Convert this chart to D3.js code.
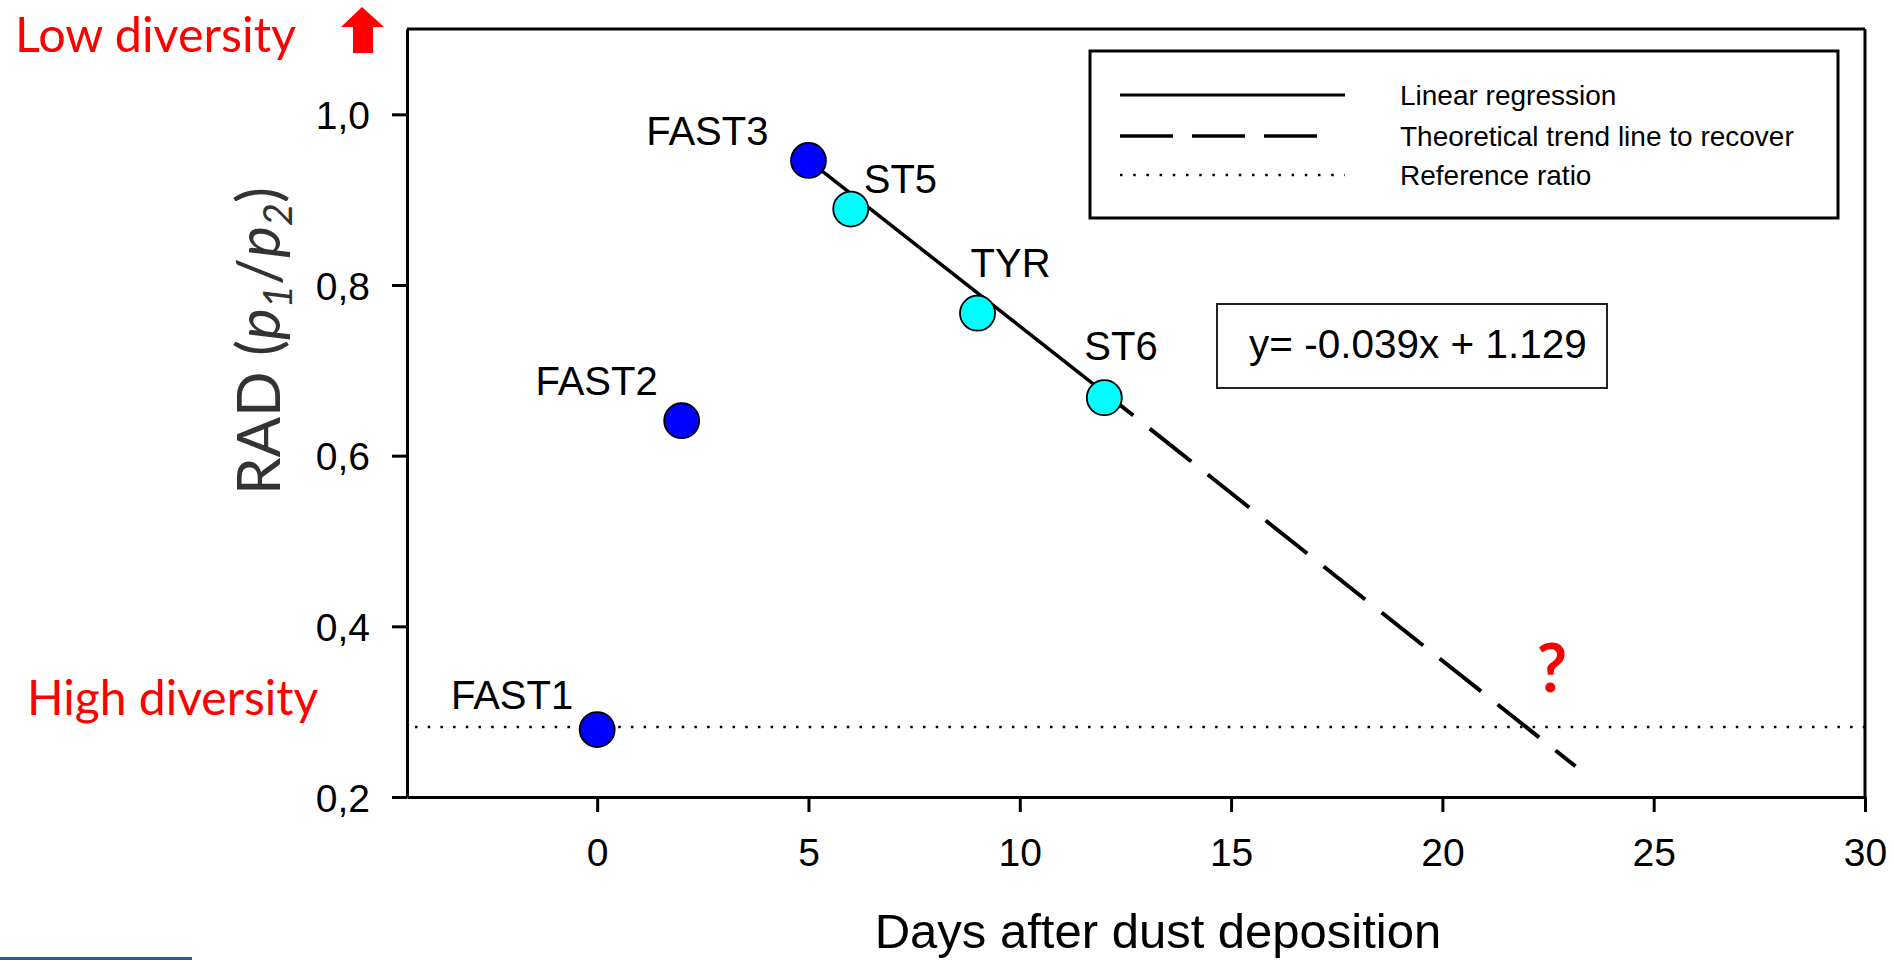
<!DOCTYPE html>
<html><head><meta charset="utf-8">
<script src="https://cdn.jsdelivr.net/npm/d3@7"></script>
<style>body{margin:0;background:#fff;} svg{display:block;}</style>
</head><body>
<svg id="c" width="1893" height="960"></svg>
<script>
// ---------- data ----------
const sampleNames = ["FAST1", "FAST2", "FAST3", "ST5", "TYR", "ST6"];
const sampleDays  = [0, 2, 5, 6, 9, 12];
const sampleRAD   = [0.279, 0.641, 0.946, 0.889, 0.767, 0.668];
const sampleGroup = ["FAST", "FAST", "FAST", "ST", "ST", "ST"];

const regressionLine = [[5, 0.946], [12, 0.674]];        // solid
const theoreticalLine = [[12, 0.674], [23.15, 0.236]];   // dashed
const referenceRatio = 0.282;
const equationText = "y= -0.039x + 1.129";

const xTicks = [0, 5, 10, 15, 20, 25, 30];
const yTicks = [0.2, 0.4, 0.6, 0.8, 1.0];
const xDomain = [-4.5, 30];
const yDomain = [0.2, 1.1];

const legendLabels = ["Linear regression", "Theoretical trend line to recover", "Reference ratio"];
const legendStyles = ["solid", "dashed", "dotted"];

// ---------- style / layout ----------
const groupColor = {FAST: "#0000ff", ST: "#00ffff"};
const labelOffset = {
  FAST1: {dx: -24, dy: -21, anchor: "end"},
  FAST2: {dx: -24, dy: -26, anchor: "end"},
  FAST3: {dx: -40, dy: -15, anchor: "end"},
  ST5:   {dx: 13,  dy: -16, anchor: "start"},
  TYR:   {dx: -7,  dy: -36, anchor: "start"},
  ST6:   {dx: -20, dy: -38, anchor: "start"}
};
const ARIAL = "'Liberation Sans', Arial, sans-serif";
const HUMAN = "Lato, 'Open Sans', sans-serif";

const svg = d3.select("#c");
const x = d3.scaleLinear().domain(xDomain).range([407, 1865]);
const y = d3.scaleLinear().domain(yDomain).range([797, 29]);

const locale = d3.formatLocale({decimal: ",", thousands: ".", grouping: [3], currency: ["", ""]});
const fmtY = locale.format(".1f");

// frame (top & right)
svg.append("line").attr("x1", x(xDomain[0])).attr("x2", x(xDomain[1]))
  .attr("y1", y(yDomain[1])).attr("y2", y(yDomain[1]))
  .attr("stroke", "#000").attr("stroke-width", 3);
svg.append("line").attr("x1", x(xDomain[1])).attr("x2", x(xDomain[1]))
  .attr("y1", y(yDomain[1])).attr("y2", y(yDomain[0]))
  .attr("stroke", "#000").attr("stroke-width", 3);

// axes
const gx = svg.append("g").attr("transform", `translate(0,${y(yDomain[0])})`)
  .call(d3.axisBottom(x).tickValues(xTicks).tickSize(15).tickSizeOuter(0).tickPadding(20).tickFormat(d3.format("d")));
const gy = svg.append("g").attr("transform", `translate(${x(xDomain[0])},0)`)
  .call(d3.axisLeft(y).tickValues(yTicks).tickSize(15).tickSizeOuter(0).tickPadding(22).tickFormat(fmtY));
[gx, gy].forEach(g => {
  g.select(".domain").attr("stroke", "#000").attr("stroke-width", 3);
  g.selectAll(".tick line").attr("stroke", "#000").attr("stroke-width", 3);
  g.selectAll(".tick text").attr("font-family", ARIAL).attr("font-size", 39).attr("fill", "#000");
});
gx.selectAll(".tick text").attr("dy", null).attr("y", 69);
gy.selectAll(".tick text").attr("dy", "0.36em");

// reference dotted line
svg.append("line").attr("x1", x(xDomain[0]) + 8).attr("x2", x(xDomain[1]))
  .attr("y1", y(referenceRatio)).attr("y2", y(referenceRatio))
  .attr("stroke", "#000").attr("stroke-width", 2.5).attr("stroke-dasharray", "2.5 10.2");

const line = d3.line().x(d => x(d[0])).y(d => y(d[1]));
svg.append("path").attr("d", line(theoreticalLine)).attr("fill", "none")
  .attr("stroke", "#000").attr("stroke-width", 4)
  .attr("stroke-dasharray", "53 21").attr("stroke-dashoffset", 16);
svg.append("path").attr("d", line(regressionLine)).attr("fill", "none")
  .attr("stroke", "#000").attr("stroke-width", 3.5);

// points
const pts = sampleNames.map((n, i) => ({name: n, day: sampleDays[i], rad: sampleRAD[i], group: sampleGroup[i]}));
svg.selectAll("circle.pt").data(pts).join("circle").attr("class", "pt")
  .attr("cx", d => x(d.day)).attr("cy", d => y(d.rad)).attr("r", 17.5)
  .attr("fill", d => groupColor[d.group]).attr("stroke", "#000").attr("stroke-width", 1.8);
svg.selectAll("text.pl").data(pts).join("text").attr("class", "pl")
  .attr("x", d => x(d.day) + labelOffset[d.name].dx)
  .attr("y", d => y(d.rad) + labelOffset[d.name].dy)
  .attr("text-anchor", d => labelOffset[d.name].anchor)
  .attr("font-family", ARIAL).attr("font-size", 40).attr("fill", "#000")
  .text(d => d.name);

// legend
svg.append("rect").attr("x", 1090).attr("y", 51).attr("width", 748).attr("height", 167)
  .attr("fill", "#fff").attr("stroke", "#000").attr("stroke-width", 3);
const dashFor = {solid: null, dashed: "53 19", dotted: "2.5 10.7"};
const widthFor = {solid: 3, dashed: 3.5, dotted: 2.5};
const endFor = {solid: 1345, dashed: 1317, dotted: 1345};
const legY = [95, 136, 175];
legendLabels.forEach((lab, i) => {
  svg.append("line").attr("x1", 1120).attr("x2", endFor[legendStyles[i]]).attr("y1", legY[i]).attr("y2", legY[i])
    .attr("stroke", "#000").attr("stroke-width", widthFor[legendStyles[i]])
    .attr("stroke-dasharray", dashFor[legendStyles[i]]);
  svg.append("text").attr("x", 1400).attr("y", legY[i] + 10)
    .attr("font-family", ARIAL).attr("font-size", 28).attr("fill", "#000").text(lab);
});

// equation box
svg.append("rect").attr("x", 1217).attr("y", 304).attr("width", 390).attr("height", 84)
  .attr("fill", "#fff").attr("stroke", "#222").attr("stroke-width", 2);
svg.append("text").attr("x", 1249).attr("y", 358)
  .attr("font-family", ARIAL).attr("font-size", 40.5).attr("fill", "#000").text(equationText);

// axis titles
svg.append("text").attr("x", 1158).attr("y", 948).attr("text-anchor", "middle")
  .attr("font-family", ARIAL).attr("font-size", 49).attr("fill", "#000")
  .text("Days after dust deposition");

const yt = svg.append("text").attr("transform", "translate(280,341) rotate(-90)")
  .attr("text-anchor", "middle").attr("font-family", HUMAN).attr("font-size", 60).attr("fill", "#333");
yt.append("tspan").text("RAD (");
yt.append("tspan").attr("font-style", "italic").text("p");
yt.append("tspan").attr("font-style", "italic").attr("font-size", 40).attr("dy", 12).text("1");
yt.append("tspan").attr("dy", -12).text("/");
yt.append("tspan").attr("font-style", "italic").text("p");
yt.append("tspan").attr("font-style", "italic").attr("font-size", 40).attr("dy", 12).text("2");
yt.append("tspan").attr("dy", -12).text(")");

// annotations in red
svg.append("text").attr("x", 15).attr("y", 52).attr("font-family", HUMAN).attr("font-size", 48.5)
  .attr("fill", "#ff0000").text("Low diversity");
svg.append("text").attr("x", 27).attr("y", 715).attr("font-family", HUMAN).attr("font-size", 48)
  .attr("fill", "#ff0000").text("High diversity");
svg.append("polygon").attr("points", "362,7 384,27 373,27 373,53 353,53 353,27 341,27").attr("fill", "#ff0000");
svg.append("text").attr("x", 1552).attr("y", 692).attr("text-anchor", "middle")
  .attr("font-family", HUMAN).attr("font-weight", "bold").attr("font-size", 66)
  .attr("fill", "#ff0000").text("?");

// bottom-left blue rule
svg.append("rect").attr("x", 0).attr("y", 957).attr("width", 192).attr("height", 3).attr("fill", "#2e5c9a");
</script></body></html>
